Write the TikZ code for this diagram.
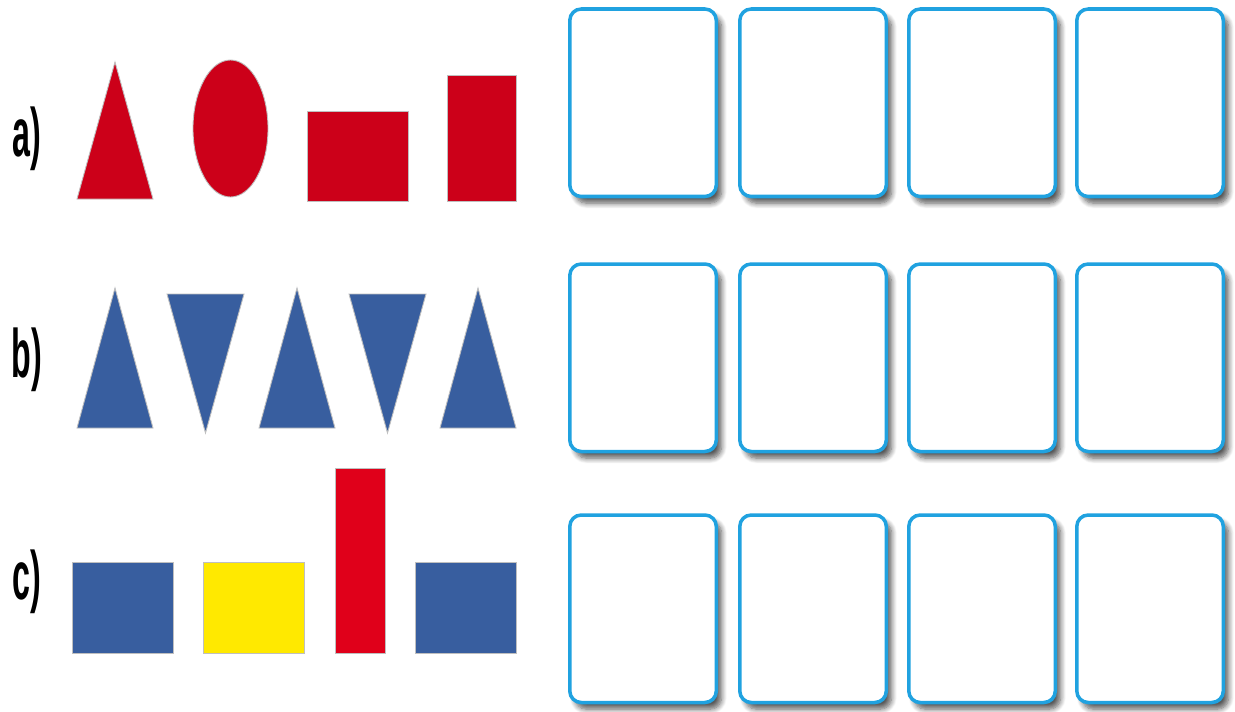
\documentclass[tikz,border=0pt]{standalone}
\usepackage{fontspec}
\setmainfont{Liberation Sans}
\usetikzlibrary{shadows.blur}
\definecolor{darkred}{RGB}{204,0,25}
\definecolor{brightred}{RGB}{224,0,26}
\definecolor{shapeblue}{RGB}{56,94,159}
\definecolor{shapeyellow}{RGB}{255,233,0}
\definecolor{boxblue}{RGB}{32,162,224}

\begin{document}
\begin{tikzpicture}[x=0.02cm,y=-0.02cm,
  lab/.style={font=\fontsize{39}{39}\selectfont\bfseries,inner sep=0pt},
  shp/.style={draw=black!25,line width=0.5pt},
  answer/.style={draw=boxblue,line width=2pt,rounded corners=6.5pt,fill=white,
    blur shadow={shadow xshift=3pt,shadow yshift=-3.8pt,shadow blur steps=8,
      shadow blur radius=3pt,shadow opacity=65}}
]
  \useasboundingbox (0,0) rectangle (1235,711);
  % row labels
  \node[lab] (la) at (27,139) {\scalebox{0.47}[1]{a)}};
  \node[lab] (lb) at (27,360) {\scalebox{0.47}[1]{b)}};
  \node[lab] (lc) at (27,582) {\scalebox{0.47}[1]{c)}};
  % row a
  \filldraw[shp,fill=darkred] (77,199) -- (115,62) -- (153,199) -- cycle;
  \filldraw[shp,fill=darkred] (230.5,128.5) ellipse [x radius=37.5,y radius=68.5];
  \filldraw[shp,fill=darkred] (307,111) rectangle (408,201);
  \filldraw[shp,fill=darkred] (447,75) rectangle (516,201);
  % row b
  \foreach \x in {77,259,440}
    \filldraw[shp,fill=shapeblue] (\x,428) -- (\x+38,288) -- (\x+76,428) -- cycle;
  \foreach \x in {167,349}
    \filldraw[shp,fill=shapeblue] (\x,294) -- (\x+77,294) -- (\x+38.5,433) -- cycle;
  % row c
  \filldraw[shp,fill=shapeblue] (72,562) rectangle (173,653);
  \filldraw[shp,fill=shapeyellow] (203,562) rectangle (304,653);
  \filldraw[shp,fill=brightred] (335,468) rectangle (385,653);
  \filldraw[shp,fill=shapeblue] (415,562) rectangle (516,653);
  % answer boxes
  \foreach \col in {568,738,907,1075}
    \foreach \row in {8.5,263.5,514.5}
      \draw[answer] (\col+1.8,\row+0.5) rectangle ++(146.5,187.5);
\end{tikzpicture}
\end{document}
